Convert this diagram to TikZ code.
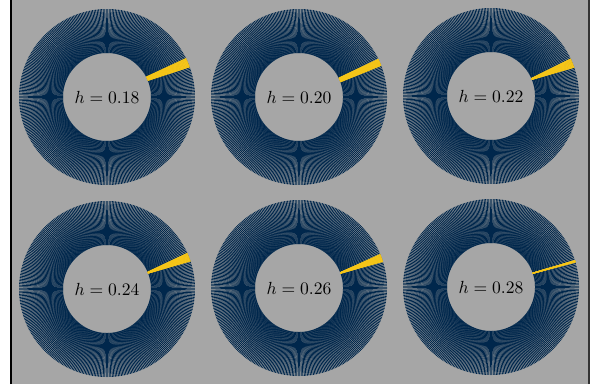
\documentclass[tikz,border=0pt]{standalone}
\usepackage{xcolor}
\usepackage{tikz}

\definecolor{umblue}{HTML}{00274C}
\definecolor{maize}{HTML}{F5C518}
\definecolor{panelgray}{HTML}{A6A6A6}

\begin{document}
\begin{tikzpicture}[
  x=0.2mm, y=0.2mm,
  spoke/.style={draw=umblue, line width=0.5pt},
  ray/.style={draw=maize, line width=0.5pt},
  hlabel/.style={font=\normalsize, inner sep=1pt}
]
\useasboundingbox (0,0) rectangle (590,387);
\fill[panelgray] (11,3) rectangle (589,387);
\draw[black, line width=0.6pt] (11,3) -- (11,387);
\draw[black!80, line width=0.6pt] (589,3) -- (589,387);

% label / centre / yellow fan: inner from-to, outer from-to (degrees)
\foreach \h/\cx/\cy/\ia/\ib/\oa/\ob in {
    18/107/290/22/27/20/26,
    20/299/290/20/25.5/21/25.5,
    22/491/291/22/23.5/19/25,
    24/107/98/21/22.5/18.5/24,
    26/299/99/19.5/20.5/17.5/22.5,
    28/491/100/18/18.5/16.5/17.5} {
  \begin{scope}[shift={(\cx,\cy)}]
    \foreach \t in {0.5,1.5,...,359.5}
      \draw[spoke] (\t:44) -- (\t:88);
    \foreach \k in {0,...,16}
      \draw[ray] ({\ia+(\ib-\ia)*\k/16}:44) -- ({\oa+(\ob-\oa)*\k/16}:88);
    \node[hlabel] (label-\h) at (0,0) {$h=0.\h$};
  \end{scope}
}
\end{tikzpicture}
\end{document}
